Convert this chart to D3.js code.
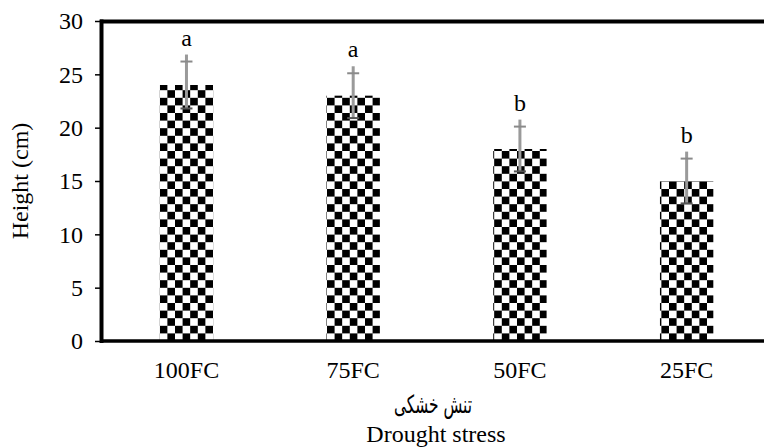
<!DOCTYPE html>
<html>
<head>
<meta charset="utf-8">
<script src="https://cdn.jsdelivr.net/npm/d3@7/dist/d3.min.js"></script>
<style>
  html, body { margin: 0; padding: 0; background: #fff; }
  svg { display: block; }
  text { font-family: "Liberation Serif", "Times New Roman", serif; fill: #000; }
</style>
</head>
<body>
<svg id="chart" width="764" height="448"></svg>
<script>
const categories = ["100FC", "75FC", "50FC", "25FC"];
const heights = [24, 23, 18, 15];
const errors = [2.2, 2.1, 2.1, 2.1];
const letters = ["a", "a", "b", "b"];
const yTicks = [0, 5, 10, 15, 20, 25, 30];
const yTitle = "Height (cm)";
const xTitleFa = "تنش خشکی";
const xTitleEn = "Drought stress";

const W = 764, H = 448;
const svg = d3.select("#chart");

const y = d3.scaleLinear().domain([0, 30]).range([341, 21]);
const x = d3.scaleBand().domain(categories).range([103.1, 770])
  .paddingInner(0.68).paddingOuter(0.34);

// checker pattern
const cell = 7.6;
const defs = svg.append("defs");
const pat = defs.append("pattern").attr("id", "checker")
  .attr("patternUnits", "userSpaceOnUse")
  .attr("width", cell * 2).attr("height", cell * 2)
  .attr("x", x(categories[0])).attr("y", y(0));
pat.append("rect").attr("width", cell * 2).attr("height", cell * 2).attr("fill", "#fff");
pat.append("rect").attr("x", 0).attr("y", 0).attr("width", cell).attr("height", cell).attr("fill", "#000");
pat.append("rect").attr("x", cell).attr("y", cell).attr("width", cell).attr("height", cell).attr("fill", "#000");

// bars
svg.append("g").selectAll("rect").data(categories).join("rect")
  .attr("x", d => x(d))
  .attr("y", (d, i) => y(heights[i]))
  .attr("width", x.bandwidth())
  .attr("height", (d, i) => y(0) - y(heights[i]))
  .attr("fill", "url(#checker)");

// error bars
const eg = svg.append("g");
categories.forEach((c, i) => {
  const cx = x(c) + x.bandwidth() / 2;
  const top = y(heights[i] + errors[i]);
  const bot = y(heights[i] - errors[i]);
  eg.append("line").attr("x1", cx).attr("x2", cx).attr("y1", top - 7).attr("y2", bot)
    .attr("stroke", "#9a9a9a").attr("stroke-width", 3);
  eg.append("line").attr("x1", cx - 6).attr("x2", cx + 6).attr("y1", top).attr("y2", top)
    .attr("stroke", "#8a8a8a").attr("stroke-width", 2);
  eg.append("line").attr("x1", cx - 6).attr("x2", cx + 6).attr("y1", bot).attr("y2", bot)
    .attr("stroke", "#555", ).attr("stroke-width", 2);
  svg.append("text").attr("x", cx).attr("y", top - 16)
    .attr("text-anchor", "middle").attr("font-size", 24).text(letters[i]);
});

// axes frame
svg.append("line").attr("x1", 100).attr("x2", W).attr("y1", 21.5).attr("y2", 21.5)
  .attr("stroke", "#000").attr("stroke-width", 4);
svg.append("line").attr("x1", 101.5).attr("x2", 101.5).attr("y1", 19.5).attr("y2", 343)
  .attr("stroke", "#000").attr("stroke-width", 4);
svg.append("line").attr("x1", 100).attr("x2", W).attr("y1", 341).attr("y2", 341)
  .attr("stroke", "#000").attr("stroke-width", 3.5);

// y axis ticks + labels
const yAxis = d3.axisLeft(y).tickValues(yTicks).tickSize(5).tickPadding(12);
const ya = svg.append("g").attr("transform", "translate(100,0)").call(yAxis);
ya.select(".domain").remove();
ya.selectAll(".tick line").attr("stroke", "#000").attr("stroke-width", 1.5);
ya.selectAll(".tick text").attr("font-size", 24)
  .attr("font-family", "Liberation Serif, serif").attr("fill", "#000");

// x axis labels
const xAxis = d3.axisBottom(x).tickSize(0).tickPadding(20);
const xa = svg.append("g").attr("transform", "translate(0,341)").call(xAxis);
xa.select(".domain").remove();
xa.selectAll(".tick text").attr("font-size", 24)
  .attr("font-family", "Liberation Serif, serif").attr("fill", "#000");

// titles
svg.append("text").attr("transform", "translate(28,181) rotate(-90)")
  .attr("text-anchor", "middle").attr("font-size", 24).text(yTitle);
svg.append("text").attr("x", 433).attr("y", 413)
  .attr("text-anchor", "middle").attr("font-size", 25)
  .attr("textLength", 78).attr("lengthAdjust", "spacingAndGlyphs")
  .attr("style", "font-family:'DejaVu Sans', sans-serif").text(xTitleFa);
svg.append("text").attr("x", 436).attr("y", 442)
  .attr("text-anchor", "middle").attr("font-size", 24).text(xTitleEn);
</script>
</body>
</html>
